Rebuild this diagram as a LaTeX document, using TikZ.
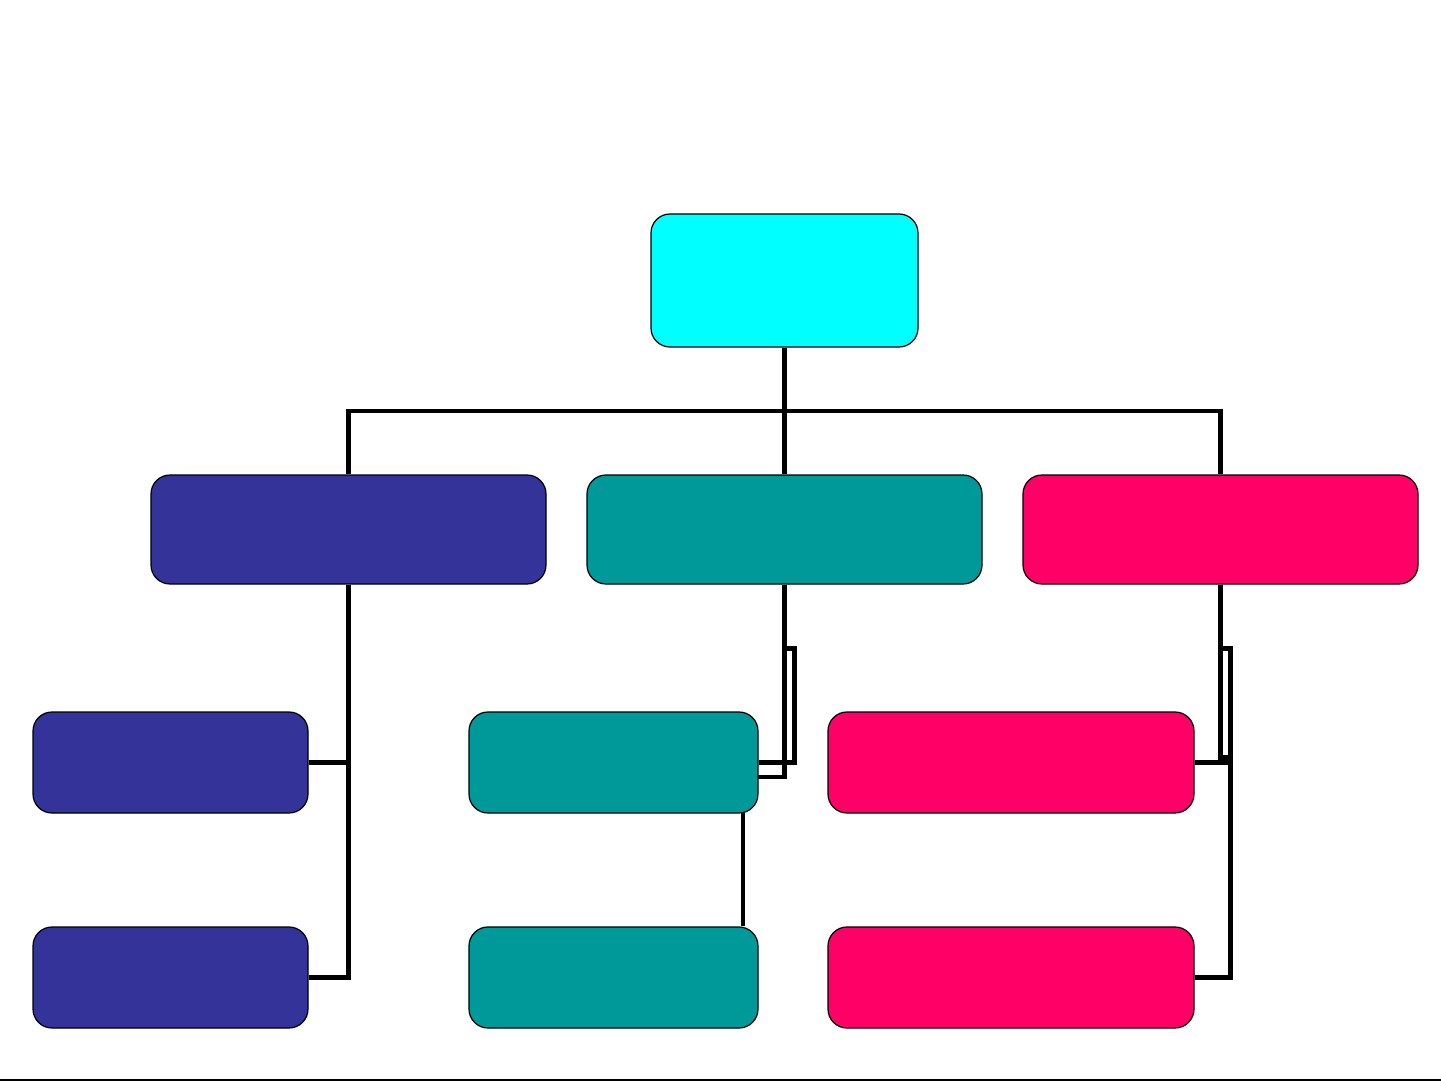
\documentclass[tikz,border=0pt]{standalone}
\usetikzlibrary{calc,backgrounds}
\definecolor{cyanbox}{HTML}{00FFFF}
\definecolor{bluebox}{HTML}{333399}
\definecolor{tealbox}{HTML}{009999}
\definecolor{pinkbox}{HTML}{FF0066}
\tikzset{
  box/.style={draw=black, line width=0.7pt, rounded corners=0.38cm, inner sep=0pt},
  topbox/.style={box, minimum width=395*0.02cm, minimum height=109*0.02cm},
  conn/.style={draw=black, line width=2.5pt}
}
\begin{document}
\begin{tikzpicture}[x=0.02cm,y=-0.02cm]
\useasboundingbox (0,0) rectangle (1441,1081);
% boxes
\node[box, fill=cyanbox, minimum width=267*0.02cm, minimum height=133*0.02cm] (root) at (784.5,280.5) {};
\node[topbox, fill=bluebox] (b1) at (348.5,529.5) {};
\node[topbox, fill=tealbox] (t1) at (784.5,529.5) {};
\node[topbox, fill=pinkbox] (p1) at (1220.5,529.5) {};
\node[box, fill=bluebox, minimum width=275*0.02cm, minimum height=101*0.02cm] (b2) at (170.5,762.5) {};
\node[box, fill=bluebox, minimum width=275*0.02cm, minimum height=101*0.02cm] (b3) at (170.5,977.5) {};
\node[box, fill=tealbox, minimum width=289*0.02cm, minimum height=101*0.02cm] (t2) at (613.5,762.5) {};
\node[box, fill=tealbox, minimum width=289*0.02cm, minimum height=101*0.02cm] (t3) at (613.5,977.5) {};
\node[box, fill=pinkbox, minimum width=366*0.02cm, minimum height=101*0.02cm] (p2) at (1011,762.5) {};
\node[box, fill=pinkbox, minimum width=366*0.02cm, minimum height=101*0.02cm] (p3) at (1011,977.5) {};
\coordinate (bus) at (784.5,411);
\coordinate (tj) at (743,777);
\coordinate (pj) at (1230.5,762.5);
% connectors behind boxes
\begin{scope}[on background layer]
\fill[white] (0,0) rectangle (1441,1081);
\draw[conn] (root.south) -- (t1.north);
\draw[conn] (b1.north) |- (bus) -| (p1.north);
\draw[conn] (b1.south) |- (b3.east);
\draw[conn] (b2.east) -- (b2.east -| b1.south);
\draw[conn] (t1.south) -- ++(0,64) -- ++(10,0) |- (t2.east);
\draw[conn] (t1.south) |- (tj) -- (tj |- t3.north);
\draw[conn] (p1.south) -- ++(0,64) -- ++(10,0) |- (p3.east);
\draw[conn] (p1.south) -- ++(0,173) -- ++(10,0);
\draw[conn] (p2.east) -- (pj);
\end{scope}
% bottom rule
\draw[black, line width=1pt] (0,1080) -- (1441,1080);
\end{tikzpicture}
\end{document}
